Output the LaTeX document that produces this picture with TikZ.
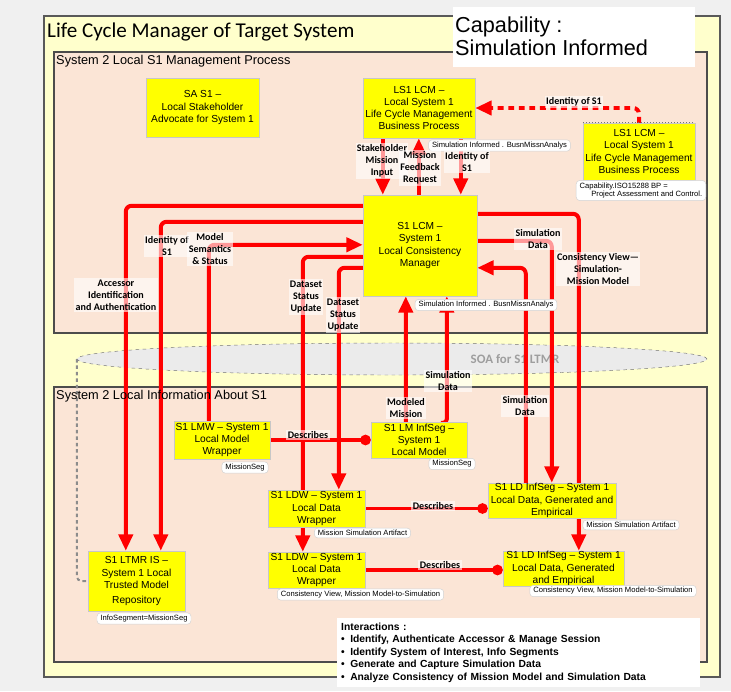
\documentclass[tikz,border=0pt]{standalone}
\usepackage{fontspec}
\setmainfont{Liberation Sans}
\newfontfamily\carl{Carlito}
\usetikzlibrary{arrows.meta,calc,shapes.geometric}
\definecolor{frameyellow}{RGB}{255,255,204}
\definecolor{peach}{RGB}{251,229,214}
\definecolor{boxyellow}{RGB}{255,255,0}
\definecolor{wire}{RGB}{255,0,0}
\definecolor{pagegrey}{RGB}{240,240,240}
\pgfdeclarelayer{back}
\pgfdeclarelayer{wires}
\pgfsetlayers{back,wires,main}
\tikzset{
  box/.style={fill=boxyellow, draw=black!22, line width=0.4pt, align=center, inner sep=0pt,
    font=\fontsize{8.7}{10.5}\selectfont},
  tag/.style={fill=white, draw=black!18, line width=0.4pt, rounded corners=3pt, inner xsep=3pt,
    inner ysep=1.8pt, font=\fontsize{6.5}{7.6}\selectfont},
  lbl/.style={fill=white, fill opacity=0.6, text opacity=1, inner sep=1.2pt, align=center,
    font=\carl\bfseries\fontsize{8.6}{10.3}\selectfont},
  flow/.style={draw=wire, line width=3.4pt, rounded corners=5pt, -{Triangle[length=14pt,width=12pt]}},
  idflow/.style={flow, dash pattern=on 5pt off 4pt},
  describes/.style={draw=wire, line width=2.6pt, -{Circle[length=9pt]}},
  section/.style={draw=black!70, line width=0.9pt, fill=peach},
}
\begin{document}
\begin{tikzpicture}[x=0.3mm, y=-0.3mm]
% page, frames and the service bus
\begin{pgfonlayer}{back}
  \fill[pagegrey] (0,0) rectangle (731,691);
  \filldraw[fill=frameyellow, draw=black!65, line width=1pt] (44,16) rectangle (720,677);
  \draw[section] (54,52) rectangle (707,333);
  \draw[section] (54,387) rectangle (707,662);
  \node[ellipse, draw=black!55, dashed, fill=black!8, minimum width=189mm, minimum height=9.6mm,
        inner sep=0] (soa) at (392,359) {};
  \node[font=\carl\bfseries\fontsize{11}{13}\selectfont, text=black!38] (soalabel) at (515,359) {SOA for S1 LTMR};
\end{pgfonlayer}
\useasboundingbox (0,0) rectangle (731,691);

% headings
\node[anchor=base west, inner sep=0, font=\carl\fontsize{18}{20}\selectfont] (title) at (47,37)
  {Life Cycle Manager of Target System};
\node[fill=white, anchor=north west, minimum width=72.6mm, minimum height=18mm, inner sep=0] (capbox) at (453,7) {};
\node[anchor=base west, inner sep=0, font=\fontsize{18.5}{20}\selectfont] (cap1) at (455,32) {Capability :};
\node[anchor=base west, inner sep=0, font=\fontsize{18.5}{20}\selectfont] (cap2) at (455,55) {Simulation Informed};
\node[anchor=base west, inner sep=0, font=\fontsize{10.9}{13}\selectfont] (secA) at (56,64)
  {System 2 Local S1 Management Process};
\node[anchor=base west, inner sep=0, font=\fontsize{10.9}{13}\selectfont] (secB) at (56,399)
  {System 2 Local Information About S1};

% process elements
\node[box, minimum width=33.9mm, minimum height=17.7mm] (SA) at (202.5,107.5)
  {SA S1 --\\Local Stakeholder\\Advocate for System 1};
\node[box, minimum width=33.6mm, minimum height=18mm] (LS1top) at (419,108)
  {LS1 LCM --\\Local System 1\\Life Cycle Management\\Business Process};
\node[box, minimum width=33.6mm, minimum height=17.1mm] (LS1r) at (639,151.5)
  {LS1 LCM --\\Local System 1\\Life Cycle Management\\Business Process};
\draw[black!55, dotted, line width=0.6pt] (LS1r.north west) -- (LS1r.north east);
\node[box, minimum width=34.2mm, minimum height=30.3mm] (LCM) at (420,245.5)
  {S1 LCM --\\System 1\\Local Consistency\\Manager};
\node[box, minimum width=28.8mm, minimum height=11.4mm] (LMW) at (222,440)
  {S1 LMW -- System 1\\Local Model\\Wrapper};
\node[box, minimum width=28.8mm, minimum height=10.8mm] (LMInf) at (419,440)
  {S1 LM InfSeg --\\System 1\\Local Model};
\node[box, minimum width=29.1mm, minimum height=11.1mm] (LDW1) at (316.5,508.5)
  {S1 LDW -- System 1\\Local Data\\Wrapper};
\node[box, minimum width=38.4mm, minimum height=10.5mm] (LDInf1) at (552,500.5)
  {S1 LD InfSeg -- System 1\\Local Data, Generated and\\Empirical};
\node[box, minimum width=29.1mm, minimum height=10.8mm] (LDW2) at (316.5,570)
  {S1 LDW -- System 1\\Local Data\\Wrapper};
\node[box, minimum width=36.3mm, minimum height=10.5mm] (LDInf2) at (563.5,568.5)
  {S1 LD InfSeg -- System 1\\Local Data, Generated\\and Empirical};
\node[box, minimum width=29.1mm, minimum height=18mm] (LTMR) at (136.5,581)
  {S1 LTMR IS --\\System 1 Local\\Trusted Model\\[2pt]Repository};

% stereotype tags
\node[tag] (tLS1) at (499.5,145.5) {Simulation Informed . BusnMissnAnalys};
\node[tag, align=left] (tLS1r) at (641,190.5) {Capability.ISO15288 BP =\\\hspace*{3.5mm}Project Assessment and Control.};
\node[tag] (tLCM) at (486,305) {Simulation Informed . BusnMissnAnalys};
\node[tag] (tLMW) at (245,467.5) {MissionSeg};
\node[tag] (tLMInf) at (452,464) {MissionSeg};
\node[tag] (tLDW1) at (362.5,533) {Mission Simulation Artifact};
\node[tag] (tLDInf1) at (631,525) {Mission Simulation Artifact};
\node[tag] (tLDW2) at (360.5,594.5) {Consistency View, Mission Model-to-Simulation};
\node[tag] (tLDInf2) at (613,591) {Consistency View, Mission Model-to-Simulation};
\node[tag] (tLTMR) at (144,618.5) {InfoSegment=MissionSeg};

% flows
\begin{pgfonlayer}{wires}
  \draw[flow] ($(LS1top.south west)+(20,0)$) -- ($(LCM.north west)+(20,0)$);
  \draw[flow] ($(LCM.north west)+(56,0)$) -- ($(LS1top.south west)+(56,0)$);
  \draw[flow] ($(LS1top.south west)+(98,0)$) -- ($(LCM.north west)+(98,0)$);
  \draw[idflow] (LS1r.north) |- (LS1top.east);
  \draw[flow] ($(LCM.north west)+(0,11)$) -| ($(LTMR.north west)+(38,0)$);
  \draw[flow] ($(LCM.north west)+(0,27)$) -| ($(LTMR.north west)+(73,0)$);
  \draw[flow] ($(LMW.north west)+(35,0)$) |- ($(LCM.north west)+(0,50)$);
  \draw[flow] ($(LCM.north west)+(0,62)$) -| ($(LDW2.north west)+(35,0)$);
  \draw[flow] ($(LCM.north west)+(0,73)$) -| ($(LDW1.north west)+(71,0)$);
  \draw[flow] ($(LMInf.north west)+(35,0)$) -- ($(LCM.south west)+(43,0)$);
  \draw[flow, rounded corners=3pt] ($(LMInf.north west)+(70,1)$) -| ($(LCM.south west)+(84,0)$);
  \draw[flow] ($(LDInf1.north west)+(38,0)$) |- ($(LCM.north east)+(0,73)$);
  \draw[flow] ($(LCM.north east)+(0,46)$) -| ($(LDInf1.north west)+(64,0)$);
  \draw[flow] ($(LCM.north east)+(0,19)$) -| ($(LDInf2.north west)+(76,0)$);
  \draw[describes] (LMW.east) -- (LMInf.west);
  \draw[describes] (LDW1.east) -- (LDW1.east -| LDInf1.west);
  \draw[describes] (LDW2.east) -- (LDW2.east -| LDInf2.west);
  \draw[black!45, line width=1.7pt, dash pattern=on 3pt off 2.5pt, rounded corners=4pt] (soa.west) |- (LTMR.west);
\end{pgfonlayer}

% flow labels
\node[lbl] (lStake) at (382,161) {Stakeholder\\Mission\\Input};
\node[lbl] (lFeed) at (420,168) {Mission\\Feedback\\Request};
\node[lbl] (lIdTop) at (467,162) {Identity of\\S1};
\node[lbl] (lIdDash) at (574,102) {Identity of S1};
\node[lbl] (lAcc) at (116,295) {Accessor\\Identification\\and Authentication};
\node[lbl] (lIdLeft) at (167,246) {Identity of\\S1};
\node[lbl] (lSem) at (210,249) {Model\\Semantics\\\& Status};
\node[lbl] (lDs1) at (306,297) {Dataset\\Status\\Update};
\node[lbl] (lDs2) at (343,315) {Dataset\\Status\\Update};
\node[lbl] (lSimTop) at (538,239) {Simulation\\Data};
\node[lbl] (lCons) at (598,269) {Consistency View—\\Simulation-\\Mission Model};
\node[lbl] (lSimMid) at (448,381) {Simulation\\Data};
\node[lbl] (lMod) at (406,408) {Modeled\\Mission};
\node[lbl] (lSimLow) at (525,406) {Simulation\\Data};
\node[lbl] (lDes1) at (308,435) {Describes};
\node[lbl] (lDes2) at (433,506) {Describes};
\node[lbl] (lDes3) at (440,565) {Describes};

% interactions summary
\node[fill=white, anchor=north west, minimum width=108.9mm, minimum height=20.7mm, inner xsep=1pt,
      inner ysep=0pt, text width=106.5mm, align=left, font=\bfseries\fontsize{8.8}{10.6}\selectfont]
  (inter) at (337,618)
  {Interactions :\\
   \makebox[7.7pt][l]{\textbullet}Identify, Authenticate Accessor \& Manage Session\\
   \makebox[7.7pt][l]{\textbullet}Identify System of Interest, Info Segments\\
   \makebox[7.7pt][l]{\textbullet}Generate and Capture Simulation Data\\
   \makebox[7.7pt][l]{\textbullet}Analyze Consistency of Mission Model and Simulation Data};
\end{tikzpicture}
\end{document}
